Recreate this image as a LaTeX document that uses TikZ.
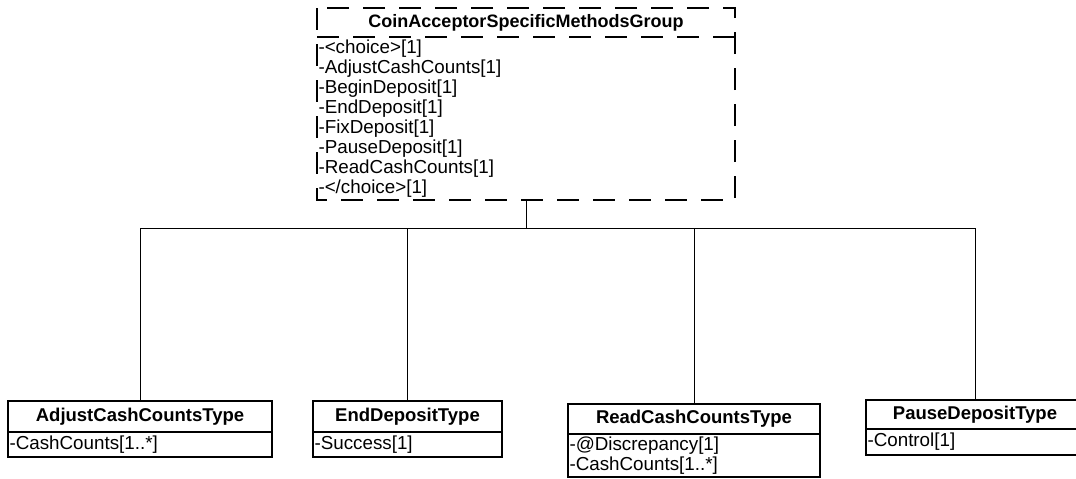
\documentclass[tikz,border=0pt]{standalone}
\usepackage{fontspec}
\setmainfont{Liberation Sans}
\usetikzlibrary{positioning}

\begin{document}
\begin{tikzpicture}[
  x=1pt, y=-1pt,
  font=\fontsize{18.8}{20}\selectfont,
  ctitle/.style={draw, line width=1.4pt, anchor=north west, inner sep=0pt,
                 outer sep=0pt, font=\fontsize{18.5}{20}\selectfont\bfseries},
  cattr/.style={draw, line width=1.4pt, align=left, inner xsep=1.5pt,
                inner ysep=0pt, outer sep=0pt},
  grpline/.style={line width=1.3pt, dash pattern=on 22pt off 14pt},
  conn/.style={line width=1pt}
]
  \useasboundingbox (0,0) rectangle (1076,479);

  % Group (dashed)
  \node[ctitle, draw=none, minimum width=418, minimum height=29,
        font=\fontsize{18}{20}\selectfont\bfseries] (grp)
    at (317,8) {CoinAcceptorSpecificMethodsGroup};
  \node[cattr, draw=none, below=0pt of grp, text width=415pt,
        minimum height=163pt] (grpattr) {-<choice>[1]\\
    -AdjustCashCounts[1]\\
    -BeginDeposit[1]\\
    -EndDeposit[1]\\
    -FixDeposit[1]\\
    -PauseDeposit[1]\\
    -ReadCashCounts[1]\\
    -</choice>[1]};
  \draw[grpline] (grp.north west) rectangle (grpattr.south east);
  \draw[grpline] (grp.south west) -- (grp.south east);

  % Types
  \node[ctitle, minimum width=264, minimum height=31] (adj)
    at (8,401) {AdjustCashCountsType};
  \node[cattr, below=0pt of adj, text width=261pt, minimum height=25pt]
    (adjattr) {-CashCounts[1..*]};

  \node[ctitle, minimum width=189, minimum height=31] (endd)
    at (313,401) {EndDepositType};
  \node[cattr, below=0pt of endd, text width=186pt, minimum height=25pt]
    (enddattr) {-Success[1]};

  \node[ctitle, minimum width=252, minimum height=30] (read)
    at (568,404) {ReadCashCountsType};
  \node[cattr, below=0pt of read, text width=249pt, minimum height=43pt]
    (readattr) {-@Discrepancy[1]\\-CashCounts[1..*]};

  \node[ctitle, minimum width=218, minimum height=29] (pause)
    at (866,400) {PauseDepositType};
  \node[cattr, below=0pt of pause, text width=215pt, minimum height=26pt]
    (pauseattr) {-Control[1]};

  % Connectors
  \coordinate (bus) at ([yshift=-28pt]grpattr.south);
  \draw[conn] (grpattr.south) -- (bus);
  \foreach \c in {adj,endd,read,pause} {
    \draw[conn] (bus) -| (\c.north);
  }
\end{tikzpicture}
\end{document}
